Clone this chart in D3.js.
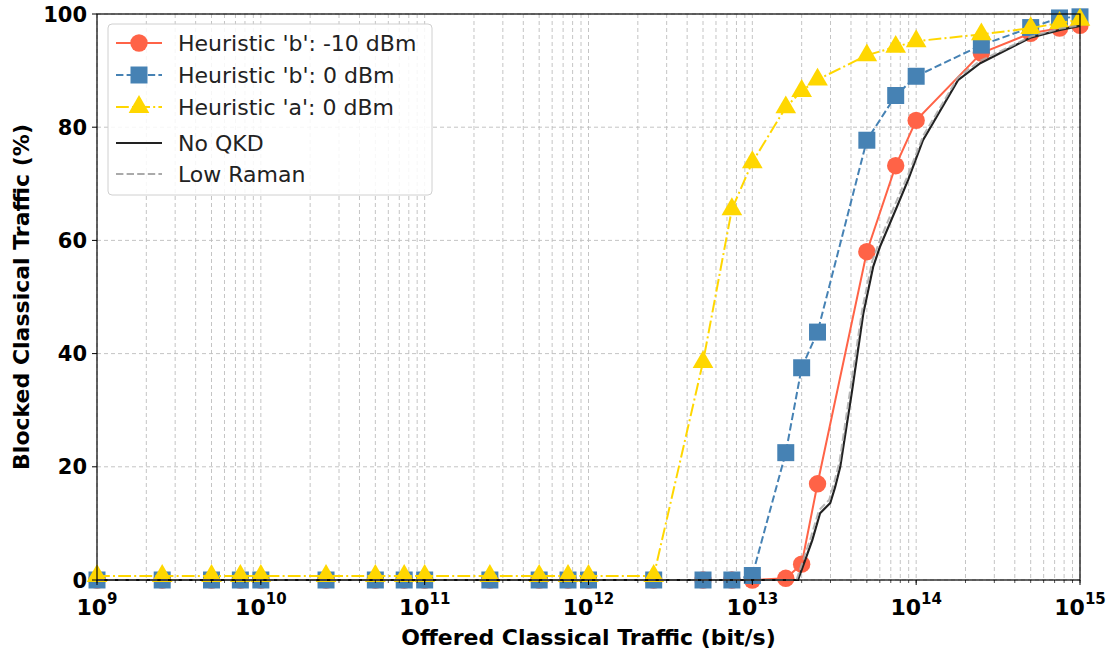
<!DOCTYPE html>
<html lang="en">
<head>
    <title>Blocked Classical Traffic vs Offered Traffic</title>
    <script src="https://d3js.org/d3.v7.min.js"></script>
    <style>
        body {
            margin: 0;
            background: white;
            font-family: 'DejaVu Sans', sans-serif;
        }
        .tick-label {
            font-size: 21px;
            font-weight: bold;
            fill: #000;
        }
        .axis-title {
            font-size: 22px;
            font-weight: bold;
            fill: #000;
        }
        .legend-text {
            font-size: 22px;
            fill: #222;
        }
    </style>
</head>
<body>
    <div id="chart"></div>

    <script>
        // offered traffic (bit/s) at which the heuristics were evaluated
        const offered = [1e9, 2.5e9, 5e9, 7.5e9, 1e10, 2.5e10, 5e10, 7.5e10, 1e11, 2.5e11, 5e11, 7.5e11,
            1e12, 2.5e12, 5e12, 7.5e12, 1e13, 1.6e13, 2e13, 2.5e13, 5e13, 7.5e13, 1e14, 2.5e14, 5e14, 7.5e14, 1e15];

        const heurB_m10 = [0, 0, 0, 0, 0, 0, 0, 0, 0, 0, 0, 0,
            0, 0, 0, 0, 0, 0.3, 2.8, 17, 58, 73.2, 81.2, 93.1, 96.6, 97.5, 98];
        const heurB_0 = [0, 0, 0, 0, 0, 0, 0, 0, 0, 0, 0, 0,
            0, 0, 0, 0, 0.8, 22.5, 37.5, 43.8, 77.7, 85.6, 89, 94.5, 97.6, 99.3, 99.5];
        const heurA_0 = [0.7, 0.7, 0.7, 0.7, 0.7, 0.7, 0.7, 0.7, 0.7, 0.7, 0.7, 0.7,
            0.7, 0.7, 38.5, 65.5, 73.8, 83.5, 86.4, 88.4, 92.7, 94.2, 95.2, 96.4, 97.5, 98.4, 99];

        // reference curves (no markers)
        const noQkdX = [1e9, 1.9e13, 2.32e13, 2.59e13, 2.99e13, 3.2e13, 3.44e13, 4.07e13, 4.75e13, 5.46e13,
            6.0e13, 7.65e13, 8.93e13, 1.1e14, 1.8e14, 2.46e14, 4.97e14, 7.57e14, 1e15];
        const noQkdY = [0, 0, 7, 11.8, 13.6, 16.4, 20, 33.6, 47, 55.3,
            58.8, 66, 70.7, 77.7, 88.3, 91.3, 95.8, 97.2, 97.9];
        const lowRamanX = [1e9, 1.86e13, 2.28e13, 2.55e13, 2.95e13, 3.15e13, 3.4e13, 4.0e13, 4.7e13, 5.4e13,
            6.0e13, 7.6e13, 8.9e13, 1.1e14, 1.8e14, 2.45e14, 5e14, 7.5e14, 1e15];
        const lowRamanY = [0, 0, 7.6, 12.3, 14.2, 17.1, 20.8, 34.5, 48, 56.4,
            60, 67, 71.5, 78.4, 88.8, 91.7, 96, 97.4, 98];

        const yTicks = [0, 20, 40, 60, 80, 100];
        const xDecades = [9, 10, 11, 12, 13, 14, 15];

        const W = 1113, H = 653;
        const margin = {top: 14, right: 33, bottom: 73, left: 97};
        const width = W - margin.left - margin.right;
        const height = H - margin.top - margin.bottom;

        const svg = d3.select("#chart").append("svg")
            .attr("width", W)
            .attr("height", H);

        const g = svg.append("g")
            .attr("transform", `translate(${margin.left},${margin.top})`);

        const x = d3.scaleLog().domain([1e9, 1e15]).range([0, width]);
        const y = d3.scaleLinear().domain([0, 100]).range([height, 0]);

        // grid: vertical lines at every major and minor log tick
        const minorTicks = [];
        xDecades.slice(0, -1).forEach(e => {
            for (let m = 1; m < 10; m++) minorTicks.push(m * Math.pow(10, e));
        });
        minorTicks.push(1e15);

        g.append("g").selectAll("line")
            .data(minorTicks)
            .enter().append("line")
            .attr("x1", d => x(d)).attr("x2", d => x(d))
            .attr("y1", 0).attr("y2", height)
            .attr("stroke", "#bdbdbd")
            .attr("stroke-width", 0.9)
            .attr("stroke-dasharray", "4,3");

        g.append("g").selectAll("line")
            .data(yTicks)
            .enter().append("line")
            .attr("x1", 0).attr("x2", width)
            .attr("y1", d => y(d)).attr("y2", d => y(d))
            .attr("stroke", "#bdbdbd")
            .attr("stroke-width", 0.9)
            .attr("stroke-dasharray", "4,3");

        // series
        const line = d3.line().x(d => x(d[0])).y(d => y(d[1]));

        const series = [
            {name: "Heuristic 'b': -10 dBm", color: "#FF6347", vals: heurB_m10, dash: null, marker: "circle"},
            {name: "Heuristic 'b': 0 dBm", color: "#4682B4", vals: heurB_0, dash: "7.4,3.2", marker: "square"},
            {name: "Heuristic 'a': 0 dBm", color: "#FFD700", vals: heurA_0, dash: "12.8,3.2,2,3.2", marker: "triangle"}
        ];

        const symbols = {
            circle: d3.symbol().type(d3.symbolCircle).size(Math.PI * 8.7 * 8.7),
            square: d3.symbol().type(d3.symbolSquare).size(17 * 17),
            triangle: d3.symbol().type(d3.symbolTriangle).size(185)
        };

        series.forEach(s => {
            const pts = offered.map((o, i) => [o, s.vals[i]]);
            g.append("path")
                .datum(pts)
                .attr("d", line)
                .attr("fill", "none")
                .attr("stroke", s.color)
                .attr("stroke-width", 2)
                .attr("stroke-dasharray", s.dash);

            g.append("g").selectAll("path")
                .data(pts)
                .enter().append("path")
                .attr("d", symbols[s.marker])
                .attr("transform", d => `translate(${x(d[0])},${y(d[1])})`)
                .attr("fill", s.color);
        });

        g.append("path")
            .datum(noQkdX.map((v, i) => [v, noQkdY[i]]))
            .attr("d", line)
            .attr("fill", "none")
            .attr("stroke", "#222")
            .attr("stroke-width", 2.2);

        g.append("path")
            .datum(lowRamanX.map((v, i) => [v, lowRamanY[i]]))
            .attr("d", line)
            .attr("fill", "none")
            .attr("stroke", "#aaaaaa")
            .attr("stroke-opacity", 0.85)
            .attr("stroke-width", 2)
            .attr("stroke-dasharray", "7.4,3.2");

        // frame
        g.append("rect")
            .attr("width", width).attr("height", height)
            .attr("fill", "none")
            .attr("stroke", "#000")
            .attr("stroke-width", 1.2);

        // y axis ticks
        const yAxis = g.append("g");
        yAxis.selectAll("line")
            .data(yTicks)
            .enter().append("line")
            .attr("x1", -5).attr("x2", 0)
            .attr("y1", d => y(d)).attr("y2", d => y(d))
            .attr("stroke", "#000");
        yAxis.selectAll("text")
            .data(yTicks)
            .enter().append("text")
            .attr("class", "tick-label")
            .attr("x", -10)
            .attr("y", d => y(d))
            .attr("dy", "0.36em")
            .attr("text-anchor", "end")
            .text(d => d);

        // x axis ticks (major + minor)
        const xAxis = g.append("g").attr("transform", `translate(0,${height})`);
        xAxis.selectAll("line.minor")
            .data(minorTicks)
            .enter().append("line")
            .attr("x1", d => x(d)).attr("x2", d => x(d))
            .attr("y1", 0).attr("y2", 3)
            .attr("stroke", "#000")
            .attr("stroke-width", 0.7);
        xAxis.selectAll("line.major")
            .data(xDecades)
            .enter().append("line")
            .attr("x1", d => x(Math.pow(10, d))).attr("x2", d => x(Math.pow(10, d)))
            .attr("y1", 0).attr("y2", 5)
            .attr("stroke", "#000");
        const xl = xAxis.selectAll("text")
            .data(xDecades)
            .enter().append("text")
            .attr("class", "tick-label")
            .attr("x", d => x(Math.pow(10, d)))
            .attr("y", 35)
            .attr("text-anchor", "middle");
        xl.append("tspan").style("font-size", "22px").text("10");
        xl.append("tspan")
            .attr("dy", -11)
            .style("font-size", "15px")
            .text(d => d);

        // axis titles
        svg.append("text")
            .attr("class", "axis-title")
            .attr("x", margin.left + width / 2)
            .attr("y", 645)
            .attr("text-anchor", "middle")
            .text("Offered Classical Traffic (bit/s)");

        svg.append("text")
            .attr("class", "axis-title")
            .attr("transform", `translate(29,${margin.top + height / 2}) rotate(-90)`)
            .attr("text-anchor", "middle")
            .text("Blocked Classical Traffic (%)");

        // legend
        const legend = svg.append("g").attr("transform", "translate(108,24)");
        legend.append("rect")
            .attr("width", 324).attr("height", 171)
            .attr("rx", 4)
            .attr("fill", "white").attr("fill-opacity", 0.85)
            .attr("stroke", "#d0d0d0");

        const legendItems = [
            ...series,
            {name: "No QKD", color: "#222", dash: null, marker: null},
            {name: "Low Raman", color: "#aaaaaa", dash: "7.4,3.2", marker: null}
        ];
        const rowY = [19, 51, 83, 119, 150];

        const rows = legend.selectAll("g.row")
            .data(legendItems)
            .enter().append("g")
            .attr("transform", (d, i) => `translate(0,${rowY[i]})`);

        rows.append("line")
            .attr("x1", 8).attr("x2", 54)
            .attr("stroke", d => d.color)
            .attr("stroke-width", 2)
            .attr("stroke-dasharray", d => d.dash);

        rows.filter(d => d.marker)
            .append("path")
            .attr("d", d => symbols[d.marker]())
            .attr("transform", "translate(31,0)")
            .attr("fill", d => d.color);

        rows.append("text")
            .attr("class", "legend-text")
            .attr("x", 70)
            .attr("dy", "0.36em")
            .text(d => d.name);
    </script>
</body>
</html>
